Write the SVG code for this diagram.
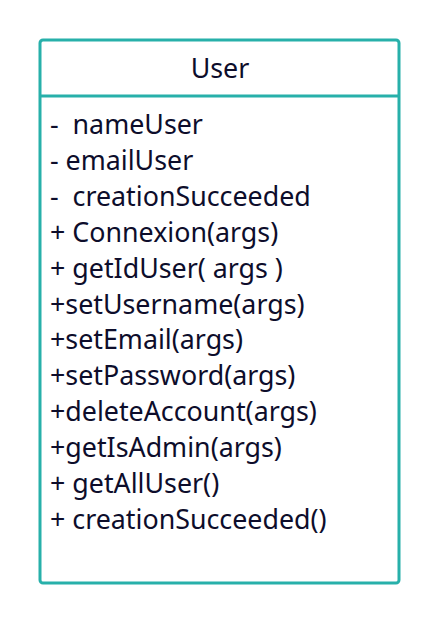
<svg xmlns="http://www.w3.org/2000/svg" width="440" height="625" viewBox="0 0 440 625">
<style>
.box{fill:#ffffff;stroke:#27B0AA;stroke-width:3}
.sep{stroke:#27B0AA;stroke-width:3}
text{font-family:"Noto Sans","Open Sans",sans-serif;font-size:26.8px;fill:#0d0d2b}
</style>
<rect width="440" height="625" fill="#ffffff"/>
<g id="User">
<rect class="box" x="40" y="40" width="359" height="543" rx="3"/>
<line class="sep" x1="40" y1="96" x2="399" y2="96"/>
<text x="220" y="78" text-anchor="middle">User</text>
<text x="50" y="134" xml:space="preserve">-  nameUser</text>
<text x="50" y="169.9">- emailUser</text>
<text x="50" y="205.8" xml:space="preserve">-  creationSucceeded</text>
<text x="50" y="241.7">+ Connexion(args)</text>
<text x="50" y="277.6">+ getIdUser( args )</text>
<text x="50" y="313.5">+setUsername(args)</text>
<text x="50" y="349.4">+setEmail(args)</text>
<text x="50" y="385.3">+setPassword(args)</text>
<text x="50" y="421.2">+deleteAccount(args)</text>
<text x="50" y="457.1">+getIsAdmin(args)</text>
<text x="50" y="493">+ getAllUser()</text>
<text x="50" y="528.9">+ creationSucceeded()</text>
</g>
</svg>
